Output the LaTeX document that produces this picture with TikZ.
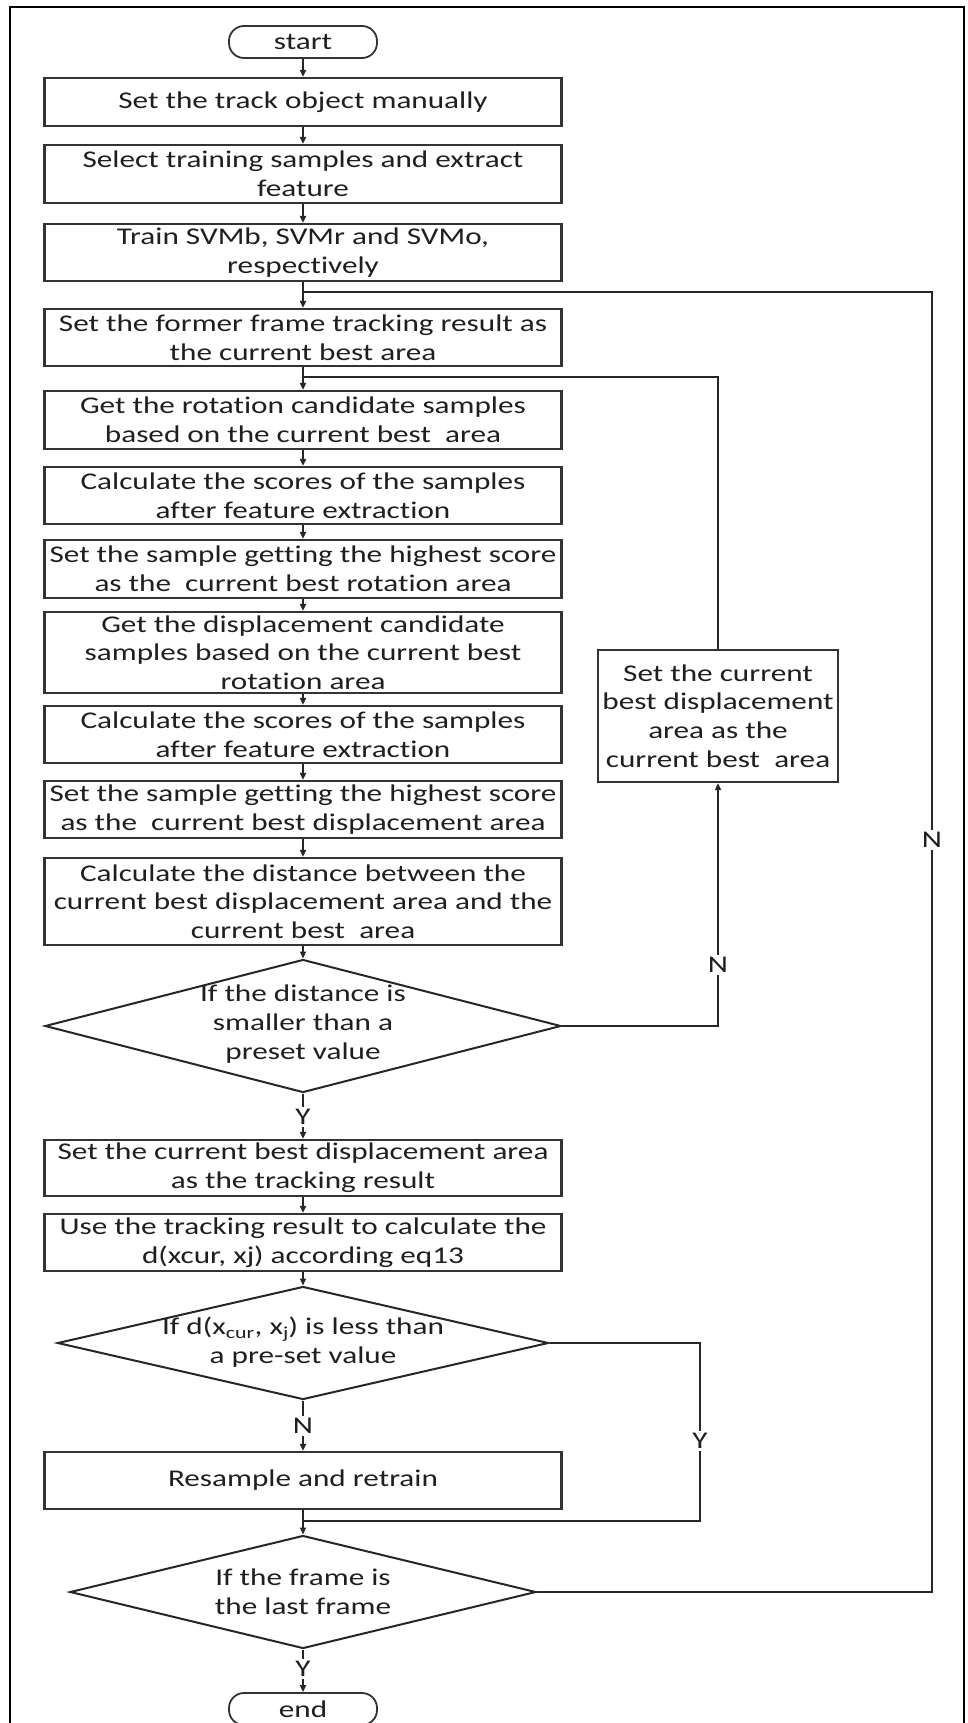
\documentclass[tikz,border=0pt]{standalone}
\usepackage{fontspec}
\setmainfont{Carlito}[FakeStretch=1.3,Ligatures={NoCommon,NoContextual,NoRare}]
\usetikzlibrary{shapes.geometric,arrows.meta}
\newcommand{\tIx}{t\kern0pt{}i}
\begin{document}
\begin{tikzpicture}[x=1pt,y=-1pt,
  txt/.style={font=\fontsize{24}{28.7}\selectfont, text=black!88, align=center, inner sep=0pt},
  box/.style={txt, draw=black!80, line width=2.2pt, rectangle, minimum width=517pt},
  rbox/.style={txt, draw=black!80, line width=2.2pt, rectangle, minimum width=240pt},
  term/.style={txt, draw=black!80, line width=1.8pt, rectangle, rounded corners=15pt, minimum width=148pt, minimum height=32pt},
  dia/.style={draw=black!85, line width=2pt, diamond, inner sep=0pt},
  conn/.style={draw=black!85, line width=2pt},
  arr/.style={conn, -{Triangle[length=7pt,width=6pt]}},
  lbl/.style={txt, fill=white, inner sep=2pt}
]
\useasboundingbox (0,0) rectangle (967,1723);
\begin{scope}
\clip (0,0) rectangle (967,1723);
\draw[line width=2.6pt, black] (10,1740) -- (10,7) -- (964,7) -- (964,1740);

\node[term] (start) at (303,42) {start};
\node[box, minimum height=48pt] (b1) at (303,102) {Set the track object manually};
\node[box, minimum height=58pt] (b2) at (303,174) {Select training samples and extract\\feature};
\node[box, minimum height=57pt] (b3) at (303,252.5) {Train SVMb, SVMr and SVMo,\\respec\tIx vely};
\node[box, minimum height=57pt] (b4) at (303,337.5) {Set the former frame tracking result as\\the current best area};
\node[box, minimum height=58pt] (b5) at (303,420) {Get the rota\tIx on candidate samples\\based on the current best~ area};
\node[box, minimum height=57pt] (b6) at (303,495.5) {Calculate the scores of the samples\\after feature extrac\tIx on};
\node[box, minimum height=58pt] (b7) at (303,569) {Set the sample getting the highest score\\as the~ current best rota\tIx on area};
\node[box, minimum height=81pt] (b8) at (303,652.5) {Get the displacement candidate\\samples based on the current best\\rota\tIx on area};
\node[box, minimum height=57pt] (b9) at (303,734.5) {Calculate the scores of the samples\\after feature extrac\tIx on};
\node[box, minimum height=57pt] (b10) at (303,809.5) {Set the sample getting the highest score\\as the~ current best displacement area};
\node[box, minimum height=87pt] (b11) at (303,901.5) {Calculate the distance between the\\current best displacement area and the\\current best~ area};
\node[dia, minimum width=516pt, minimum height=133pt] (d1) at (303,1026) {};
\node[txt] (d1t) at (303,1024) {If the distance is\\smaller than a\\preset value};
\node[box, minimum height=56pt] (b12) at (303,1168) {Set the current best displacement area\\as the tracking result};
\node[box, minimum height=57pt] (b13) at (303,1242.5) {Use the tracking result to calculate the\\d(xcur, xj) according eq13};
\node[dia, minimum width=491pt, minimum height=113pt] (d2) at (303,1343) {};
\node[txt] (d2t) at (303,1342) {If d(x\textsubscript{cur}, x\textsubscript{j}) is less than\\a pre-set value};
\node[box, minimum height=57pt] (b14) at (303,1480.5) {Resample and retrain};
\node[dia, minimum width=466pt, minimum height=113pt] (d3) at (303,1592) {};
\node[txt] (d3t) at (303,1592) {If the frame is\\the last frame};
\node[term] (end) at (303,1709) {end};
\node[rbox, minimum height=132pt] (rb) at (718,716) {Set the current\\best displacement\\area as the\\current best~ area};

\coordinate (j1) at (303,292);
\coordinate (j2) at (303,377);
\coordinate (j3) at (303,1521);
\coordinate (rc1) at (932,292);
\coordinate (yc) at (700,1521);

\draw[arr] (start) -- (b1);
\draw[arr] (b1) -- (b2);
\draw[arr] (b2) -- (b3);
\draw[arr] (b3) -- (b4);
\draw[arr] (b4) -- (b5);
\draw[arr] (b5) -- (b6);
\draw[arr] (b6) -- (b7);
\draw[arr] (b7) -- (b8);
\draw[arr] (b8) -- (b9);
\draw[arr] (b9) -- (b10);
\draw[arr] (b10) -- (b11);
\draw[arr] (b11) -- (d1.north);
\draw[arr] (d1.south) -- (b12);
\draw[arr] (b12) -- (b13);
\draw[arr] (b13) -- (d2.north);
\draw[arr] (d2.south) -- (b14);
\draw[arr] (b14) -- (d3.north);
\draw[arr] (d3.south) -- (end);

\draw[conn] (d3.east) -| (rc1) -- (j1);
\draw[conn] (rb.north) |- (j2);
\draw[arr] (d1.east) -| (rb.south);
\draw[conn] (d2.east) -| (yc) -- (j3);

\node[lbl] (n1) at (932,840) {N};
\node[lbl] (n2) at (718,965) {N};
\node[lbl] (y1) at (303,1117) {Y};
\node[lbl] (n3) at (303,1426) {N};
\node[lbl] (y2) at (700,1441) {Y};
\node[lbl] (y3) at (303,1669) {Y};
\end{scope}
\end{tikzpicture}
\end{document}
